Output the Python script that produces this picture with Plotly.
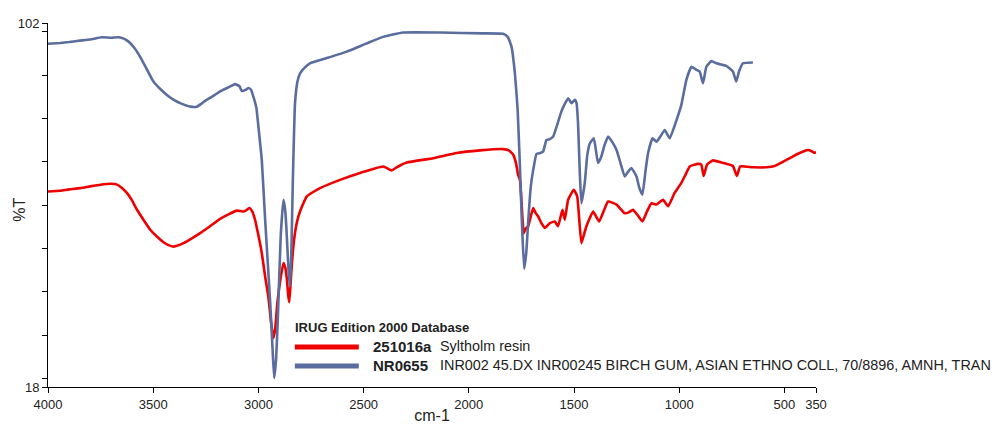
import plotly.graph_objects as go

# FTIR transmission spectra (wavenumber in cm-1, transmittance in %T)
nr0655_wn = [4000, 3942, 3900, 3855, 3800, 3744, 3700, 3665, 3640, 3617, 3590, 3562,
             3530, 3499, 3465, 3435, 3400, 3372, 3324, 3292, 3270, 3245, 3210, 3182,
             3140, 3111, 3090, 3079, 3060, 3047, 3035, 3024, 3010, 3000, 2984, 2968,
             2944, 2933, 2925, 2916, 2908, 2894, 2881, 2872, 2865, 2857, 2850, 2843,
             2837, 2826, 2814, 2802, 2780, 2755, 2675, 2580, 2485, 2407, 2312, 2137,
             1932, 1837, 1815, 1797, 1781, 1768, 1758, 1747, 1737, 1727, 1718, 1706,
             1694, 1678, 1660, 1647, 1631, 1615, 1599, 1580, 1560, 1545, 1528, 1512,
             1496, 1488, 1481, 1473, 1465, 1449, 1437, 1425, 1406, 1386, 1370, 1355,
             1338, 1318, 1298, 1278, 1259, 1243, 1227, 1203, 1190, 1175, 1160, 1148,
             1127, 1108, 1090, 1069, 1045, 1013, 990, 966, 942, 918, 903, 887, 871,
             847, 823, 800, 776, 745, 729, 716, 697, 650]
nr0655_t = [97.2, 97.4, 97.6, 97.9, 98.2, 98.7, 98.6, 98.7, 98.4, 97.7, 96.3, 94.2,
            91.3, 88.5, 86.7, 85.4, 84.2, 83.5, 82.7, 82.7, 83.4, 84.3, 85.3, 86.2,
            87.2, 87.9, 87.4, 86.3, 86.6, 87.0, 86.6, 85.0, 82.5, 78.1, 70.4, 56.6,
            37.5, 27.0, 20.1, 24.5, 33.5, 52.8, 61.2, 58.5, 52.8, 45.0, 41.2, 50.0,
            64.3, 83.5, 88.6, 90.4, 91.7, 92.7, 93.9, 95.4, 97.3, 98.8, 99.8, 99.8,
            99.6, 99.5, 98.8, 96.5, 90.4, 82.0, 70.0, 55.0, 45.3, 49.0, 56.0, 64.0,
            68.1, 71.8, 72.0, 72.3, 75.0, 75.2, 75.8, 78.5, 81.6, 83.2, 84.6, 83.5,
            84.3, 83.5, 78.9, 68.0, 60.4, 65.1, 71.5, 74.2, 75.4, 69.7, 71.2, 73.8,
            75.8, 74.5, 72.7, 69.5, 66.6, 67.7, 68.5, 66.6, 64.0, 62.4, 68.0, 72.0,
            75.4, 74.6, 75.8, 77.3, 75.4, 79.6, 83.1, 88.9, 91.9, 91.2, 90.8, 88.1,
            91.9, 93.2, 92.7, 92.4, 92.1, 90.8, 88.5, 90.8, 92.7, 92.9]

r251016a_wn = [4000, 3942, 3900, 3847, 3800, 3736, 3700, 3672, 3650, 3625, 3600, 3577,
               3545, 3514, 3480, 3451, 3430, 3404, 3380, 3356, 3320, 3277, 3230, 3182,
               3140, 3103, 3085, 3071, 3055, 3043, 3030, 3016, 3000, 2984, 2968, 2953,
               2940, 2929, 2920, 2910, 2895, 2881, 2872, 2865, 2858, 2853, 2845, 2834,
               2822, 2810, 2790, 2770, 2740, 2707, 2612, 2517, 2407, 2367, 2343, 2295,
               2169, 2058, 1947, 1837, 1810, 1789, 1775, 1766, 1757, 1745, 1739, 1730,
               1718, 1705, 1694, 1683, 1671, 1655, 1639, 1615, 1591, 1576, 1555, 1544,
               1528, 1501, 1485, 1475, 1465, 1455, 1441, 1425, 1409, 1381, 1360, 1338,
               1298, 1259, 1240, 1220, 1200, 1175, 1155, 1132, 1108, 1077, 1053, 1022,
               990, 970, 950, 911, 895, 884, 868, 840, 800, 776, 745, 726, 710, 650,
               586, 547, 491, 428, 389, 370, 357, 350]
r251016a_t = [63.1, 63.3, 63.6, 63.9, 64.3, 64.8, 64.9, 64.7, 64.0, 62.8, 61.0, 58.9,
              56.5, 54.3, 52.6, 51.4, 50.8, 50.4, 50.7, 51.2, 52.2, 53.5, 55.1, 56.8,
              57.9, 58.7, 58.6, 58.5, 58.9, 59.3, 58.6, 56.6, 53.0, 48.9, 43.5, 38.9,
              33.0, 29.3, 31.5, 37.4, 43.0, 46.6, 45.5, 43.0, 39.0, 37.6, 43.5, 50.4,
              54.8, 57.4, 60.0, 62.0, 63.0, 63.9, 65.8, 67.4, 68.9, 68.0, 68.7, 69.8,
              70.8, 72.0, 72.6, 72.9, 72.6, 71.6, 69.5, 67.0, 65.8, 57.0, 53.5, 54.5,
              55.1, 57.5, 59.3, 58.2, 57.4, 55.8, 54.7, 55.8, 56.2, 55.1, 58.9, 56.6,
              61.2, 63.5, 62.0, 56.5, 51.2, 52.8, 55.1, 57.0, 58.5, 56.2, 58.5, 60.8,
              60.1, 58.1, 58.3, 58.9, 57.8, 56.2, 58.3, 60.4, 60.1, 61.2, 59.7, 62.8,
              65.1, 67.0, 68.9, 69.5, 69.3, 66.7, 69.3, 70.3, 69.8, 69.5, 69.0, 66.7,
              68.9, 68.7, 68.7, 69.0, 70.4, 72.0, 72.7, 72.4, 72.0, 72.3]

x_ticks = [4000, 3500, 3000, 2500, 2000, 1500, 1000, 500, 350]
y_ticks = [18, 20, 30, 40, 50, 60, 70, 80, 90, 100, 102]
y_ticktext = ["18", "", "", "", "", "", "", "", "", "", "102"]

legend_title = "IRUG Edition 2000 Database"
series = [
    ("251016a", "Syltholm resin", "#ee0000", r251016a_wn, r251016a_t),
    ("NR0655", "INR002 45.DX INR00245 BIRCH GUM, ASIAN ETHNO COLL, 70/8896, AMNH, TRAN",
     "#5b6d9e", nr0655_wn, nr0655_t),
]

W, H = 1000, 424
L, R, T, B = 48, 183.5, 23, 36.5
pw, ph = W - L - R, H - T - B


def px(x):
    return (x - L) / pw


def py(y):
    return 1 - (y - T) / ph


fig = go.Figure()
for code, desc, color, wn, tr in series:
    fig.add_trace(go.Scatter(x=wn, y=tr, mode="lines", name=code,
                             line=dict(color=color, width=2.6, shape="spline",
                                       smoothing=0.4),
                             showlegend=False))

sans = "Liberation Sans, Arial, sans-serif"
font_axis = dict(family=sans, size=13, color="#222")

fig.update_layout(
    width=W, height=H,
    margin=dict(l=L, r=R, t=T, b=B),
    plot_bgcolor="white", paper_bgcolor="white",
    xaxis=dict(range=[4000, 350], tickvals=x_ticks, ticks="outside", ticklen=5,
               tickcolor="black", showline=True, linecolor="black", linewidth=1,
               showgrid=False, zeroline=False, tickfont=font_axis, automargin=False,
               title=dict(text="cm-1", standoff=0,
                          font=dict(family=sans, size=16, color="#222"))),
    yaxis=dict(range=[18, 102], tickvals=y_ticks, ticktext=y_ticktext,
               ticks="outside", ticklen=5, tickcolor="black", showline=True,
               linecolor="black", linewidth=1, showgrid=False, zeroline=False,
               tickfont=font_axis, automargin=False),
)

# Rotated y-axis title
fig.add_annotation(x=px(20), y=py(210), xref="paper", yref="paper",
                   text="%T", textangle=-90, showarrow=False,
                   xanchor="center", yanchor="middle",
                   font=dict(family=sans, size=16, color="#222"))

# Legend block drawn as shapes + text
fig.add_annotation(x=px(293), y=py(328), xref="paper", yref="paper",
                   text="<b>" + legend_title + "</b>", showarrow=False,
                   xanchor="left", yanchor="middle",
                   font=dict(family=sans, size=13, color="#222"))
for i, (code, desc, color, wn, tr) in enumerate(series):
    yy = 347.5 + i * 19
    fig.add_shape(type="line", xref="paper", yref="paper",
                  x0=px(295), x1=px(359), y0=py(yy), y1=py(yy),
                  line=dict(color=color, width=5))
    fig.add_annotation(x=px(371), y=py(yy - 1), xref="paper", yref="paper",
                       text="<b>" + code + "</b>", showarrow=False,
                       xanchor="left", yanchor="middle",
                       font=dict(family=sans, size=15, color="#222"))
    fig.add_annotation(x=px(438), y=py(yy - 1), xref="paper", yref="paper",
                       text=desc, showarrow=False,
                       xanchor="left", yanchor="middle",
                       font=dict(family=sans, size=14.4, color="#222"))

fig.write_html("out.html")
